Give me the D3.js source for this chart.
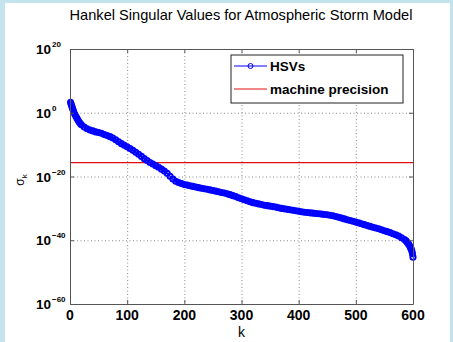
<!DOCTYPE html>
<html>
<head>
<meta charset="utf-8">
<script src="https://cdn.jsdelivr.net/npm/d3@7/dist/d3.min.js"></script>
<style>
  body { margin: 0; background: #fff; }
  svg { display: block; }
</style>
</head>
<body>
<div id="chart"></div>
<script>
// k index and log10 of the Hankel singular value
const hsvK = [
  1, 2, 3, 4, 5, 6, 8, 10, 12, 14, 16, 18, 20, 25, 30, 35, 40, 45, 50, 55,
  60, 65, 70, 75, 80, 85, 90, 95, 100, 105, 110, 115, 120, 125, 130, 135, 140, 145, 150, 155,
  160, 165, 170, 175, 180, 185, 190, 195, 200, 205, 210, 215, 220, 225, 230, 235, 240, 245, 250, 255,
  260, 265, 270, 275, 280, 285, 290, 295, 300, 305, 310, 315, 320, 325, 330, 335, 340, 345, 350, 355,
  360, 365, 370, 375, 380, 385, 390, 395, 400, 405, 410, 415, 420, 425, 430, 435, 440, 445, 450, 455,
  460, 465, 470, 475, 480, 485, 490, 495, 500, 505, 510, 515, 520, 525, 530, 535, 540, 545, 550, 555,
  560, 565, 570, 575, 580, 585, 588, 590, 592, 593, 595, 596, 597, 598, 599, 600
];
const hsvExp = [
  3.3, 2.7, 2.2, 1.6, 1.0, 0.5, -0.3, -1.0, -1.7, -2.3, -2.9, -3.4, -3.8, -4.5, -5.0, -5.4, -5.7, -6.0, -6.2, -6.45,
  -6.8, -7.15, -7.5, -7.9, -8.5, -9.1, -9.7, -10.2, -10.7, -11.2, -11.8, -12.4, -13.0, -13.7, -14.4, -15.0, -15.6, -16.1, -16.6, -17.1,
  -17.7, -18.3, -19.0, -19.9, -20.8, -21.5, -21.9, -22.2, -22.5, -22.7, -22.9, -23.1, -23.3, -23.5, -23.7, -23.85, -24.0, -24.2, -24.4, -24.6,
  -24.8, -25.0, -25.2, -25.45, -25.7, -26.0, -26.3, -26.65, -27.0, -27.3, -27.6, -27.9, -28.2, -28.4, -28.6, -28.8, -29.0, -29.15, -29.3, -29.45,
  -29.6, -29.8, -30.0, -30.15, -30.3, -30.45, -30.6, -30.75, -30.9, -31.05, -31.2, -31.3, -31.4, -31.5, -31.6, -31.7, -31.8, -31.9, -32.0, -32.15,
  -32.3, -32.55, -32.8, -33.05, -33.3, -33.55, -33.8, -34.05, -34.3, -34.55, -34.8, -35.1, -35.4, -35.65, -35.9, -36.15, -36.4, -36.7, -37.0, -37.3,
  -37.6, -37.95, -38.3, -38.7, -39.2, -39.8, -40.2, -40.7, -41.1, -41.4, -42.0, -42.4, -42.8, -43.4, -44.2, -45.3
];
const machinePrecision = 2.22e-16;

const xTicks = [0, 100, 200, 300, 400, 500, 600];
const yTickExps = [20, 0, -20, -40, -60];
const legendLabels = ['HSVs', 'machine precision'];
const titleText = 'Hankel Singular Values for Atmospheric Storm Model';
const xLabel = 'k';

const W = 453, H = 342;
const margin = { top: 49, right: 40, bottom: 38, left: 70 };
const width = W - margin.left - margin.right;
const height = H - margin.top - margin.bottom;

const data = hsvK.map((k, i) => ({ k: k, s: Math.pow(10, hsvExp[i]) }));

const svg = d3.select('#chart').append('svg')
  .attr('width', W)
  .attr('height', H);

// figure frame
svg.append('rect').attr('width', W).attr('height', H).attr('fill', '#c3e3ed');
svg.append('rect').attr('x', 5).attr('y', 3).attr('width', 445).attr('height', H - 3).attr('fill', '#fff');

const g = svg.append('g').attr('transform', `translate(${margin.left},${margin.top})`);

const x = d3.scaleLinear().domain([0, 600]).range([0, width]);
const y = d3.scaleLog().domain([1e-60, 1e20]).range([height, 0]);
const yTicks = yTickExps.map(e => Math.pow(10, e));

// grid
g.append('g')
  .call(d3.axisBottom(x).tickValues(xTicks.slice(1, -1)).tickSize(height).tickFormat(''))
  .call(a => a.select('.domain').remove())
  .selectAll('.tick line')
  .attr('stroke', '#8a8a8a')
  .attr('stroke-dasharray', '1,2.5');

g.append('g')
  .call(d3.axisLeft(y).tickValues(yTicks.slice(1, -1)).tickSize(-width).tickFormat(''))
  .call(a => a.select('.domain').remove())
  .selectAll('.tick line')
  .attr('stroke', '#8a8a8a')
  .attr('stroke-dasharray', '1,2.5');

// machine precision
g.append('line')
  .attr('x1', 0).attr('x2', width)
  .attr('y1', y(machinePrecision)).attr('y2', y(machinePrecision))
  .attr('stroke', '#e01010')
  .attr('stroke-width', 1.3);

// HSVs
const line = d3.line().x(d => x(d.k)).y(d => y(d.s));
g.append('path')
  .datum(data)
  .attr('d', line)
  .attr('fill', 'none')
  .attr('stroke', '#0000ff')
  .attr('stroke-width', 1.5);

g.append('g').selectAll('circle')
  .data(data)
  .join('circle')
  .attr('cx', d => x(d.k))
  .attr('cy', d => y(d.s))
  .attr('r', 2.6)
  .attr('fill', 'none')
  .attr('stroke', '#0000ff')
  .attr('stroke-width', 1.9);

// axes box with inward ticks
const axisStyle = sel => {
  sel.select('.domain').attr('stroke', '#555');
  sel.selectAll('.tick line').attr('stroke', '#555');
  sel.selectAll('text').remove();
};
g.append('g').attr('transform', `translate(0,${height})`)
  .call(d3.axisBottom(x).tickValues(xTicks).tickSizeInner(-4).tickSizeOuter(0)).call(axisStyle);
g.append('g')
  .call(d3.axisTop(x).tickValues(xTicks).tickSizeInner(-4).tickSizeOuter(0)).call(axisStyle);
g.append('g')
  .call(d3.axisLeft(y).tickValues(yTicks).tickSizeInner(-4).tickSizeOuter(0)).call(axisStyle);
g.append('g').attr('transform', `translate(${width},0)`)
  .call(d3.axisRight(y).tickValues(yTicks).tickSizeInner(-4).tickSizeOuter(0)).call(axisStyle);

// tick labels
const font = 'Liberation Sans, Arial, Helvetica, sans-serif';
g.append('g').selectAll('text')
  .data(xTicks)
  .join('text')
  .attr('x', d => x(d))
  .attr('y', height + 16)
  .attr('text-anchor', 'middle')
  .style('font-family', font)
  .style('font-size', '14px')
  .style('font-weight', 'bold')
  .text(d => d);

const yLab = g.append('g').selectAll('g')
  .data(yTickExps)
  .join('g')
  .attr('transform', e => `translate(-19,${y(Math.pow(10, e)) + 5})`)
  .style('font-family', font)
  .style('font-weight', 'bold');
yLab.append('text')
  .attr('text-anchor', 'end')
  .style('font-size', '13.5px')
  .text('10');
yLab.append('text')
  .attr('x', 1)
  .attr('y', -7)
  .style('font-size', '8px')
  .text(e => e < 0 ? '\u2212' + Math.abs(e) : e);

// axis labels and title
svg.append('text')
  .attr('x', margin.left + width / 2)
  .attr('y', 337)
  .attr('text-anchor', 'middle')
  .style('font-family', font)
  .style('font-size', '14px')
  .text(xLabel);

const yl = svg.append('text')
  .attr('transform', 'translate(24,180) rotate(-90)')
  .attr('text-anchor', 'middle')
  .style('font-family', font)
  .style('font-size', '12px');
yl.append('tspan').text('\u03c3');
yl.append('tspan').attr('dy', 3).style('font-size', '8px').text('k');

svg.append('text')
  .attr('x', 241)
  .attr('y', 20)
  .attr('text-anchor', 'middle')
  .style('font-family', font)
  .style('font-size', '14.6px')
  .text(titleText);

// legend
const lg = svg.append('g').attr('transform', 'translate(231,55)');
lg.append('rect')
  .attr('width', 172).attr('height', 48)
  .attr('fill', '#fff')
  .attr('stroke', '#222')
  .attr('stroke-width', 1);
const legendColors = ['#0000ff', '#e01010'];
const legendY = [11, 34];
legendLabels.forEach((lab, i) => {
  lg.append('line')
    .attr('x1', 3).attr('x2', 36)
    .attr('y1', legendY[i]).attr('y2', legendY[i])
    .attr('stroke', legendColors[i])
    .attr('stroke-width', 1);
  if (i === 0) {
    lg.append('circle')
      .attr('cx', 19.5).attr('cy', legendY[i]).attr('r', 2.5)
      .attr('fill', 'none')
      .attr('stroke', legendColors[i])
      .attr('stroke-width', 1);
  }
  lg.append('text')
    .attr('x', 39)
    .attr('y', legendY[i] + 5)
    .style('font-family', font)
    .style('font-size', '13.5px')
    .style('font-weight', 'bold')
    .text(lab);
});
</script>
</body>
</html>
